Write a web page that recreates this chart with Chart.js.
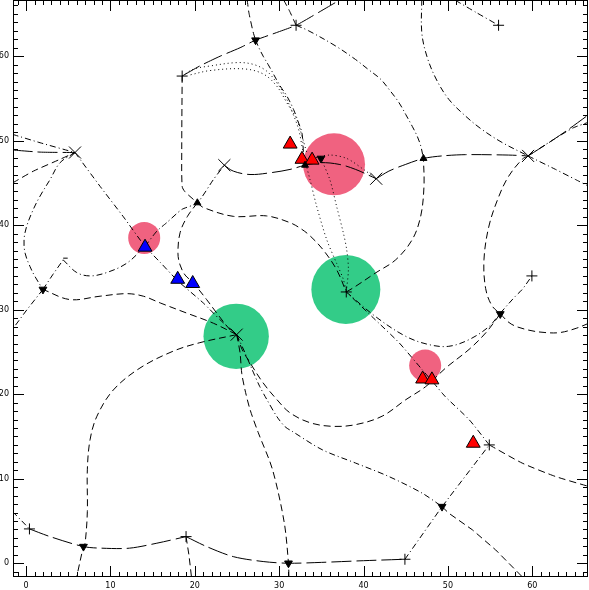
<!DOCTYPE html>
<html>
<head>
<meta charset="utf-8">
<script src="https://cdn.jsdelivr.net/npm/chart.js@4/dist/chart.umd.min.js"></script>
<style>
  html, body { margin: 0; padding: 0; background: #fff; }
  canvas { display: block; }
</style>
</head>
<body>
<canvas id="myChart" width="589" height="590"></canvas>
<script>
// tick labels
const tickValues = [0, 10, 20, 30, 40, 50, 60];
const tickLabels = ['0', '10', '20', '30', '40', '50', '60'];

// markers
const plusPts = [[0.4, 4.06], [18.96, 3.15], [44.9, 0.47], [54.9, 14.0], [37.95, 32.1], [32.0, 63.66], [56.0, 63.66], [18.5, 57.65], [59.95, 34.0]];
const crossPts = [[5.8, 48.6], [23.5, 47.1], [41.5, 45.5], [59.5, 48.2], [24.96, 27.05]];
const barPts = [[4.4, 36.1]];
const downPts = [[27.2, 61.9], [2.0, 32.4], [6.8, 1.97], [31.1, 0.0], [49.3, 6.7], [56.2, 29.5], [34.95, 47.9]];
const upPts = [[20.3, 42.65], [47.1, 47.9], [33.06, 47.1]];
const redPts = [[31.3, 49.6], [32.7, 47.8], [33.9, 47.7], [47.0, 21.8], [48.1, 21.7], [53.0, 14.2]];
const bluePts = [[14.1, 37.4], [17.97, 33.6], [19.75, 33.1]];
const pinkPts = [[14.0, 38.5], [36.5, 47.2], [47.3, 23.4]];
const pinkSize = [16, 31, 16];
const greenPts = [[37.9, 32.4], [24.9, 26.85]];
const greenSize = [34.5, 32.7];

// tracks
const edgeBottomLeft = [[-1.6, 6.1], [-0.6, 5.1], [0.4, 4.06]];
const bottomWest = [[0.4, 4.06], [2.84, 3.15], [6.8, 1.97], [8.97, 1.78], [12.24, 1.78], [15.5, 2.37], [18.96, 3.15]];
const bottomEast = [[18.96, 3.15], [21.4, 1.97], [24.56, 0.78], [28.1, 0.2], [31.1, 0], [35, 0.1], [40, 0.3], [44.9, 0.47]];
const riseEast = [[44.9, 0.47], [49.3, 6.7], [54.9, 14.0]];
const returnNorth = [[54.9, 14.0], [52.5, 17.0], [49.7, 19.7], [48.5, 21.1], [46.95, 22.9], [44.2, 26.1], [41.4, 28.8], [37.95, 32.1]];
const stubSouth = [[18.96, 3.15], [19.3, 1.0], [19.6, -1.6]];
const greenLeftSouth = [[24.96, 27.05], [25.36, 24.9], [25.56, 22.5], [25.95, 20.5], [26.54, 18.2], [27.5, 15.5], [29.2, 11.1], [30.6, 4.8], [31.1, 0], [31.15, -1.6]];
const greenLeftSE1 = [[24.96, 27.05], [25.6, 25.3], [26.54, 23.73], [28.08, 21.36], [29.74, 19.35], [31.28, 17.8], [33.65, 16.63], [36.3, 16.2], [39.06, 16.4], [42.2, 17.4], [45.0, 19.35], [47.36, 20.9], [49.73, 23.1], [52.5, 25.3], [54.47, 27.25], [56.2, 29.5]];
const greenLeftSE2 = [[24.96, 27.05], [25.95, 24.9], [26.8, 22.9], [27.7, 20.9], [28.55, 19.35], [29.74, 17.33], [30.7, 16.15], [31.55, 15.6], [35.1, 13.43], [39.06, 11.85], [43.0, 10.26], [46.95, 8.29], [49.3, 6.7]];
const southEastStub = [[49.3, 6.7], [50.1, 5.92], [52.9, 3.95], [55.65, 1.58], [58.8, -1.6]];
const eastStub = [[54.9, 14.0], [58.8, 11.85], [62.76, 10.26], [66.7, 9.08]];
const greenLeftWest = [[24.96, 27.05], [22.2, 28.4], [19.04, 29.6], [15.9, 30.8], [13.9, 31.6], [11.93, 31.9], [8.77, 31.6], [5.2, 31.2], [2.0, 32.4]];
const greenLeftArc = [[24.96, 27.05], [20.6, 26.1], [17.45, 25.1], [13.5, 23.1], [10.34, 20.5], [8.4, 17.4], [7.58, 14.6], [7.26, 11.05], [7.26, 6.1], [7.0, 2.4], [6.8, 1.97], [6.0, -1.6]];
const northDash = [[18.5, 57.65], [18.45, 49.0], [18.5, 44.6], [18.8, 44.0], [19.55, 43.3], [20.3, 42.65]];
const northDash2 = [[20.3, 42.65], [19.1, 41.0], [18.25, 39.1], [18.0, 36.7], [18.25, 35.3], [18.85, 34.1], [19.75, 33.25], [21.4, 31.2], [22.6, 29.6], [24.2, 27.6], [24.96, 27.05]];
const westToGreen = [[5.8, 48.6], [8.77, 44.6], [11.53, 41.0], [14.1, 37.5], [16.0, 35.5], [18.0, 33.4], [21.0, 30.8], [23.0, 28.8], [24.96, 27.05]];
const westLoop = [[5.8, 48.6], [4.03, 47.4], [2.84, 45.4], [1.66, 43.45], [0.87, 41.9], [0.08, 39.9], [-0.24, 38.3], [-0.12, 36.7], [0.47, 35.1], [1.07, 33.9], [2.0, 32.4]];
const edgeWest1 = [[-1.6, 50.75], [1.66, 49.76], [5.8, 48.6]];
const edgeWest2 = [[-1.6, 48.9], [1.66, 48.65], [5.8, 48.6]];
const edgeWest3 = [[-1.6, 45.0], [0.87, 46.4], [4.03, 47.8], [5.8, 48.6]];
const edgeWest4 = [[2.0, 32.4], [0.1, 30.0], [-1.6, 27.7]];
const westShort = [[2.0, 32.4], [3.2, 34.2], [4.4, 35.9]];
const westCurve = [[4.4, 35.9], [6.0, 34.4], [7.6, 34.0], [9.56, 34.4], [11.93, 35.5], [14.1, 37.5]];
const blueToCross = [[14.1, 37.5], [15.5, 39.3], [16.67, 40.3], [18.45, 41.86], [20.3, 42.65], [22.2, 45.4], [23.5, 47.1]];
const midTrack = [[23.5, 47.1], [24.56, 46.4], [26.54, 46.0], [28.9, 46.2], [31.28, 46.6], [33.06, 47.1], [34.95, 47.4], [37.1, 47.2], [39.06, 46.6], [41.5, 45.5]];
const midTrack2 = [[41.5, 45.5], [43.0, 46.4], [45.0, 47.2], [47.1, 47.9], [49.3, 48.2], [52.1, 48.35], [57.2, 48.3], [59.5, 48.2]];
const eastUp = [[59.5, 48.2], [61.95, 49.76], [64.3, 51.35], [66.7, 53.1]];
const eastUp2 = [[59.5, 48.2], [62.3, 50.0], [64.8, 51.5], [66.7, 52.2]];
const eastDown = [[59.5, 48.2], [62.76, 46.6], [65.13, 45.4], [66.7, 44.6]];
const northEastArc = [[46.9, 66.7], [46.9, 62.8], [47.5, 60.0], [48.6, 57.3], [50.1, 54.9], [52.1, 52.9], [54.0, 51.35], [56.4, 49.8], [59.5, 48.2]];
const eastLoop = [[59.5, 48.2], [58.8, 47.8], [57.2, 45.8], [56.05, 43.45], [54.86, 39.9], [54.27, 35.9], [54.47, 32.5], [55.2, 30.5], [56.2, 29.5]];
const eastTail = [[56.2, 29.5], [57.5, 28.3], [59.5, 27.6], [61.5, 27.3], [63.3, 27.3], [65.2, 27.8], [66.7, 28.4]];
const greenRightEast = [[37.95, 32.1], [41.4, 29.2], [45.0, 26.85], [47.75, 25.87], [50.1, 25.67], [52.5, 26.46], [54.86, 28.0], [56.16, 29.54], [58.0, 31.6], [58.8, 32.4], [59.95, 34.0]];
const topTrack = [[18.5, 57.65], [20.6, 58.85], [23.0, 60.0], [25.36, 61.0], [27.2, 61.9], [29.7, 62.8], [32.0, 63.66], [34.7, 65.2], [37.1, 66.6]];
const topDot1 = [[18.5, 57.65], [19.8, 58.45], [21.8, 58.84], [24.96, 59.24], [26.9, 59.04], [28.5, 58.25], [29.7, 56.87], [30.7, 55.3], [31.5, 53.5], [32.3, 51.35], [32.7, 49.37], [32.9, 48.4]];
const topDot2 = [[19.5, 57.8], [21.8, 58.3], [25.75, 58.5], [28.1, 57.9], [29.7, 56.47], [30.9, 54.5], [32.1, 52.5], [32.7, 50.55], [33.26, 48.6]];
const topDashNorth = [[27.2, 61.9], [27.5, 61.2], [28.1, 60.0], [28.7, 59.0], [30.1, 56.5], [30.9, 55.3], [31.7, 53.7], [32.3, 52.1], [32.7, 50.9], [32.85, 49.0], [32.9, 48.2]];
const topEdgeDash = [[26.2, 66.7], [26.4, 65.2], [26.9, 62.9], [27.2, 61.9]];
const topEdgeDash2 = [[30.5, 66.7], [31.2, 65.4], [32.0, 63.66]];
const arcToArrow = [[32.0, 63.66], [33.5, 63.0], [36.7, 61.2], [39.06, 59.6], [40.6, 58.4], [42.0, 57.3], [43.0, 56.1], [44.2, 54.5], [45.0, 53.1], [45.77, 51.7], [46.37, 50.5], [46.77, 49.4], [47.1, 47.9]];
const topEdgeNE = [[50.9, 66.6], [53.3, 65.2], [56.0, 63.66]];
const clusterDotA = [[32.9, 48.2], [33.65, 45.4], [34.44, 42.25], [35.63, 38.3], [36.8, 35.5], [37.6, 33.6], [37.95, 32.1]];
const clusterDotB = [[34.95, 47.9], [36.0, 45.4], [36.8, 42.25], [37.6, 39.1], [38.0, 37.1], [38.2, 34.75], [37.95, 32.1]];
const arcFromArrow = [[20.3, 42.65], [21.0, 42.1], [24.56, 41.05], [28.5, 41.1], [31.28, 40.3], [32.7, 39.5], [33.7, 38.7], [35.2, 37.1], [36.8, 34.75], [37.95, 32.1]];
const greenToArrow = [[37.95, 32.1], [39.06, 32.77], [41.43, 34.36], [43.8, 35.9], [45.77, 38.3], [46.77, 41.06], [47.16, 44.6], [47.1, 47.9]];
const clusterDotEast = [[33.9, 47.9], [36.0, 48.3], [38.0, 47.9], [40.0, 46.6], [41.5, 45.5]];

const dashes = {
    long: [20, 5],
    dash: [7, 4],
    dashdot: [6, 3, 1, 3],
    dot: [1, 3]
};

// [points, style, tension]
const lines = [
    [edgeBottomLeft, 'dashdot', 0],
    [bottomWest, 'long', 0.3],
    [bottomEast, 'long', 0.3],
    [riseEast, 'dashdot', 0],
    [returnNorth, 'dashdot', 0.2],
    [stubSouth, 'dash', 0],
    [greenLeftSouth, 'dash', 0.3],
    [greenLeftSE1, 'dash', 0.35],
    [greenLeftSE2, 'dashdot', 0.3],
    [southEastStub, 'dash', 0],
    [eastStub, 'dash', 0.2],
    [greenLeftWest, 'dash', 0.35],
    [greenLeftArc, 'dash', 0.35],
    [northDash, 'dash', 0.3],
    [northDash2, 'dash', 0.35],
    [westToGreen, 'dashdot', 0.2],
    [westLoop, 'dashdot', 0.35],
    [edgeWest1, 'dashdot', 0.2],
    [edgeWest2, 'long', 0.2],
    [edgeWest3, 'dash', 0.2],
    [edgeWest4, 'dashdot', 0],
    [westShort, 'dashdot', 0],
    [westCurve, 'dashdot', 0.35],
    [blueToCross, 'dashdot', 0.2],
    [midTrack, 'long', 0.35],
    [midTrack2, 'long', 0.3],
    [eastUp, 'long', 0.2],
    [eastUp2, 'dashdot', 0.2],
    [eastDown, 'dashdot', 0.2],
    [northEastArc, 'dashdot', 0.35],
    [eastLoop, 'dash', 0.35],
    [eastTail, 'dash', 0.35],
    [greenRightEast, 'dashdot', 0.35],
    [topTrack, 'long', 0.2],
    [topDot1, 'dot', 0.35],
    [topDot2, 'dot', 0.35],
    [topDashNorth, 'dashdot', 0.35],
    [topEdgeDash, 'dash', 0.2],
    [topEdgeDash2, 'dash', 0.2],
    [arcToArrow, 'dashdot', 0.35],
    [topEdgeNE, 'dashdot', 0.2],
    [clusterDotA, 'dot', 0.3],
    [clusterDotB, 'dot', 0.3],
    [arcFromArrow, 'dash', 0.35],
    [greenToArrow, 'dash', 0.35],
    [clusterDotEast, 'dot', 0.3]
];

function toXY(pts) {
    return pts.map(([x, y]) => ({ x, y }));
}

const datasets = [];

// circles at the bottom
datasets.push({
    data: toXY(pinkPts), order: 2,
    pointStyle: 'circle', pointRadius: pinkSize,
    pointBackgroundColor: 'rgb(240,98,128)', pointBorderWidth: 0
});
datasets.push({
    data: toXY(greenPts), order: 2,
    pointStyle: 'circle', pointRadius: greenSize,
    pointBackgroundColor: 'rgb(51,204,136)', pointBorderWidth: 0
});

lines.forEach(([pts, style, t]) => {
    datasets.push({
        data: toXY(pts), order: 1,
        showLine: true, pointRadius: 0,
        borderColor: '#000', borderWidth: 1,
        borderDash: dashes[style], tension: t, fill: false
    });
});

// markers on top
datasets.push({
    data: toXY(plusPts), order: 0, pointStyle: 'cross', pointRadius: 5.5,
    pointBorderColor: '#000', pointBorderWidth: 1
});
datasets.push({
    data: toXY(crossPts), order: 0, pointStyle: 'crossRot', pointRadius: 8.5,
    pointBorderColor: '#000', pointBorderWidth: 1
});
datasets.push({
    data: toXY(barPts), order: 0, pointStyle: 'dash', pointRadius: 4.5,
    pointBorderColor: '#000', pointBorderWidth: 1
});
datasets.push({
    data: toXY(downPts), order: 0, pointStyle: 'triangle', pointRotation: 180, pointRadius: 4.5,
    pointBackgroundColor: '#000', pointBorderColor: '#000', pointBorderWidth: 1
});
datasets.push({
    data: toXY(upPts), order: 0, pointStyle: 'triangle', pointRadius: 4,
    pointBackgroundColor: '#000', pointBorderColor: '#000', pointBorderWidth: 1
});
datasets.push({
    data: toXY(redPts), order: 0, pointStyle: 'triangle', pointRadius: 8,
    pointBackgroundColor: '#ff0000', pointBorderColor: '#000', pointBorderWidth: 1
});
datasets.push({
    data: toXY(bluePts), order: 0, pointStyle: 'triangle', pointRadius: 8,
    pointBackgroundColor: '#0000ff', pointBorderColor: '#000', pointBorderWidth: 1
});

// frame with inward ticks on all four sides, labels left and bottom
const frameTicks = {
    id: 'frameTicks',
    afterDatasetsDraw(chart) {
        const { ctx, chartArea: a, scales: { x, y } } = chart;
        ctx.save();
        ctx.strokeStyle = '#000';
        ctx.lineWidth = 1;
        ctx.setLineDash([]);
        ctx.strokeRect(a.left + 0.5, a.top + 0.5, a.right - a.left - 1, a.bottom - a.top - 1);
        ctx.beginPath();
        for (let v = -1; v <= 66; v++) {
            const len = v % 10 === 0 ? 11 : 5;
            const px = Math.round(x.getPixelForValue(v)) + 0.5;
            ctx.moveTo(px, a.bottom); ctx.lineTo(px, a.bottom - len);
            ctx.moveTo(px, a.top); ctx.lineTo(px, a.top + len);
            const py = Math.round(y.getPixelForValue(v)) + 0.5;
            ctx.moveTo(a.left, py); ctx.lineTo(a.left + len, py);
            ctx.moveTo(a.right, py); ctx.lineTo(a.right - len, py);
        }
        ctx.stroke();

        ctx.fillStyle = '#000';
        ctx.font = '8px "DejaVu Sans"';
        ctx.textAlign = 'center';
        ctx.textBaseline = 'top';
        tickValues.forEach((v, i) => {
            ctx.fillText(tickLabels[i], x.getPixelForValue(v), a.bottom + 5);
        });
        ctx.textAlign = 'right';
        ctx.textBaseline = 'middle';
        tickValues.forEach((v, i) => {
            ctx.fillText(tickLabels[i], 9, y.getPixelForValue(v));
        });
        ctx.restore();
    }
};

const ctx = document.getElementById('myChart').getContext('2d');
const myChart = new Chart(ctx, {
    type: 'scatter',
    data: { datasets: datasets },
    options: {
        responsive: false,
        animation: false,
        events: [],
        layout: { autoPadding: false, padding: { left: 13, right: 1, top: 0, bottom: 13 } },
        plugins: {
            legend: { display: false },
            tooltip: { enabled: false }
        },
        scales: {
            x: { type: 'linear', min: -1.55, max: 66.6, display: false },
            y: { type: 'linear', min: -1.63, max: 66.65, display: false }
        }
    },
    plugins: [frameTicks]
});
</script>
</body>
</html>
